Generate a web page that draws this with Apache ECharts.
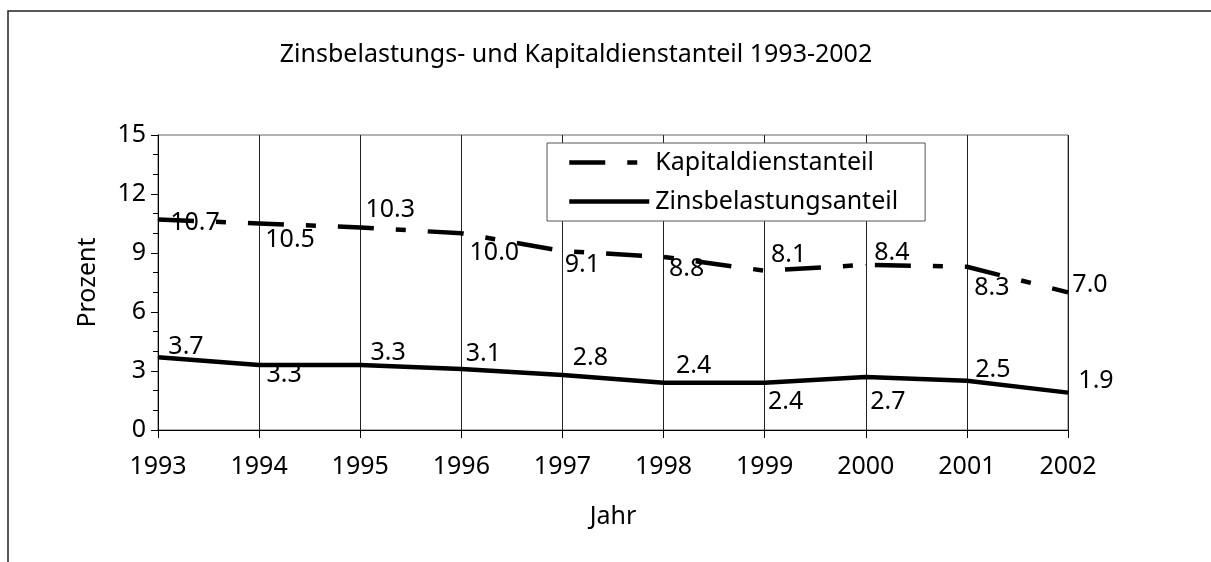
<!DOCTYPE html>
<html>
<head>
<meta charset="utf-8">
<script src="https://cdn.jsdelivr.net/npm/echarts@6/dist/echarts.min.js"></script>
<style>
  html, body { margin: 0; padding: 0; background: #fff; }
  #chart { width: 1211px; height: 562px; }
</style>
</head>
<body>
<div id="chart"></div>
<script>
// Daten
var jahre = ['1993', '1994', '1995', '1996', '1997', '1998', '1999', '2000', '2001', '2002'];
var kapitaldienst = [10.7, 10.5, 10.3, 10.0, 9.1, 8.8, 8.1, 8.4, 8.3, 7.0];
var zinsbelastung = [3.7, 3.3, 3.3, 3.1, 2.8, 2.4, 2.4, 2.7, 2.5, 1.9];
var yTicks = [0, 3, 6, 9, 12, 15];

// Lage der Beschriftungen (Mitte relativ zum Punkt)
var kapLabelOffset = [[37, 3], [31, 16], [30, -18], [33, 20], [20, 14], [23, 12], [24, -16], [26, -12], [25, 21], [22, -7]];
var zinsLabelOffset = [[28, -10], [25, 10], [28, -12], [22, -15], [28, -17], [30, -17], [21, 19], [22, 25], [26, -11], [28, -12]];

var FONT = 'Noto Sans';
var FS = 25;

function withLabels(values, offsets) {
    return values.map(function (v, i) {
        return {
            value: v,
            label: { offset: offsets[i] }
        };
    });
}

var myChart = echarts.init(document.getElementById('chart'), null, { renderer: 'canvas' });

var option = {
    animation: false,
    backgroundColor: '#fff',
    textStyle: { fontFamily: FONT, color: '#000' },
    title: {
        text: 'Zinsbelastungs- und Kapitaldienstanteil 1993-2002',
        left: 576,
        textAlign: 'center',
        top: 42,
        padding: 0,
        textStyle: { fontFamily: FONT, fontSize: FS, fontWeight: 'normal', color: '#000' }
    },
    // Rahmen (nur links und oben sichtbar)
    graphic: [{
        type: 'polyline',
        shape: { points: [[8, 562], [8, 11], [1211, 11]] },
        style: { fill: null, stroke: '#222', lineWidth: 1.5 },
        silent: true
    }],
    legend: {
        orient: 'vertical',
        left: 547,
        top: 143,
        padding: [7, 27, 7, 20],
        itemWidth: 80,
        itemHeight: 25,
        itemGap: 14,
        borderColor: '#555',
        borderWidth: 1,
        backgroundColor: '#fff',
        itemStyle: { opacity: 0 },
        lineStyle: { width: 4.5 },
        textStyle: { fontFamily: FONT, fontSize: FS, color: '#000', padding: [0, 0, 0, 1] },
        data: ['Kapitaldienstanteil', 'Zinsbelastungsanteil']
    },
    grid: {
        left: 158,
        right: 143,
        top: 135,
        bottom: 132,
        show: true,
        borderColor: '#666',
        borderWidth: 1,
        containLabel: false
    },
    xAxis: {
        type: 'category',
        data: jahre,
        boundaryGap: false,
        name: 'Jahr',
        nameLocation: 'middle',
        nameGap: 74,
        nameTextStyle: { fontFamily: FONT, fontSize: FS, color: '#000' },
        axisLine: { lineStyle: { color: '#000', width: 1 } },
        axisTick: { show: true, length: 8, lineStyle: { color: '#000' } },
        axisLabel: { fontFamily: FONT, fontSize: FS, color: '#000', margin: 24 },
        splitLine: { show: true, lineStyle: { color: '#222', width: 1 } }
    },
    yAxis: {
        type: 'value',
        min: yTicks[0],
        max: yTicks[yTicks.length - 1],
        interval: 3,
        name: 'Prozent',
        nameLocation: 'middle',
        nameGap: 58,
        nameTextStyle: { fontFamily: FONT, fontSize: FS, color: '#000' },
        axisLine: { show: true, lineStyle: { color: '#000', width: 1 } },
        axisTick: { show: true, length: 7, lineStyle: { color: '#000' } },
        minorTick: { show: true, splitNumber: 3, length: 5, lineStyle: { color: '#000' } },
        axisLabel: { fontFamily: FONT, fontSize: FS, color: '#000', margin: 12 },
        splitLine: { show: false }
    },
    series: [{
        name: 'Kapitaldienstanteil',
        type: 'line',
        data: withLabels(kapitaldienst, kapLabelOffset),
        symbol: 'circle',
        symbolSize: 1,
        showSymbol: true,
        color: '#000',
        itemStyle: { color: '#000' },
        lineStyle: { color: '#000', width: 4.5, type: [36, 22, 10, 22], cap: 'butt' },
        label: {
            show: true,
            position: 'inside',
            fontFamily: FONT,
            fontSize: FS,
            color: '#000',
            formatter: function (p) { return p.value.toFixed(1); }
        },
        z: 3
    }, {
        name: 'Zinsbelastungsanteil',
        type: 'line',
        data: withLabels(zinsbelastung, zinsLabelOffset),
        symbol: 'circle',
        symbolSize: 1,
        showSymbol: true,
        color: '#000',
        itemStyle: { color: '#000' },
        lineStyle: { color: '#000', width: 4.5 },
        label: {
            show: true,
            position: 'inside',
            fontFamily: FONT,
            fontSize: FS,
            color: '#000',
            formatter: function (p) { return p.value.toFixed(1); }
        },
        z: 3
    }]
};

myChart.setOption(option);
</script>
</body>
</html>
